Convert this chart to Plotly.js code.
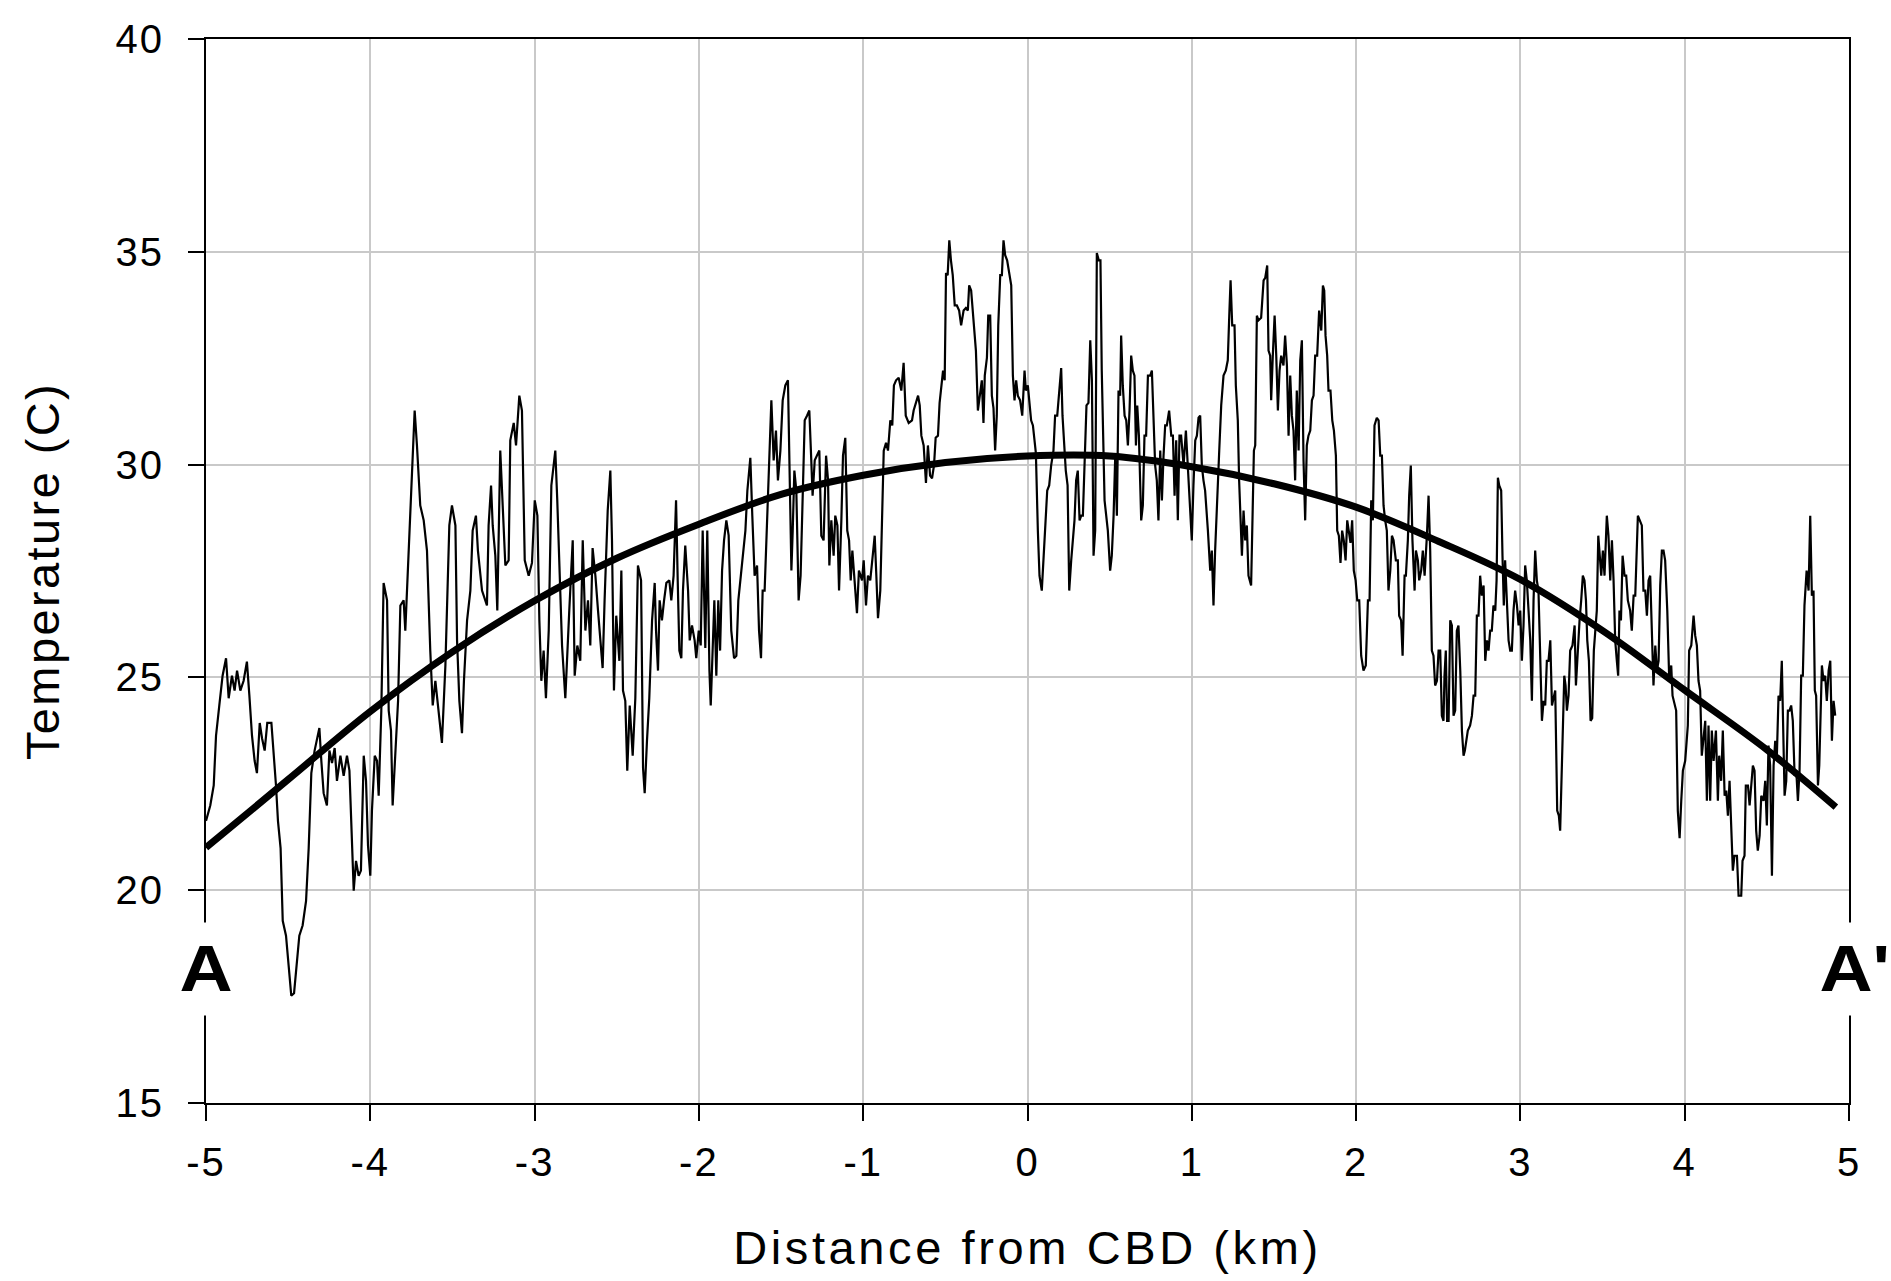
<!DOCTYPE html>
<html>
<head>
<meta charset="utf-8">
<script src="https://cdn.plot.ly/plotly-3.0.1.min.js"></script>
<style>
  html, body { margin: 0; padding: 0; background: #fff; }
  #chart { width: 1891px; height: 1281px; }
  /* wide, spaced lettering for the axis texts */
  #chart .xtitle { letter-spacing: 3.6px; }
  #chart .ytitle { letter-spacing: 2.4px; }
  #chart .xtick text, #chart .ytick text { letter-spacing: 2px; }
  /* broad block letters for the transect end markers */
  #chart .annotation-text { transform-box: fill-box; transform-origin: center; transform: scaleX(1.15); }
</style>
</head>
<body>
<div id="chart"></div>
<script>
// Transect A–A' : surface temperature measured along a line through the CBD
const distanceKm = [
  -5.000,-4.974,-4.953,-4.939,-4.919,-4.899,-4.878,-4.862,-4.842,-4.826,-4.811,-4.791,-4.771,-4.751,-4.736,-4.720,-4.704,-4.690,-4.673,-4.659,-4.643,-4.627,-4.602,-4.588,-4.574,-4.562,-4.546,-4.533,-4.513,-4.497,-4.481,-4.464,-4.449,-4.432,-4.412,-4.391,-4.375,-4.359,-4.339,-4.310,-4.298,-4.284,-4.264,-4.249,-4.233,-4.217,-4.203,-4.182,-4.162,-4.142,-4.127,-4.115,-4.101,
  -4.087,-4.071,-4.057,-4.040,-4.026,-4.014,-4.000,-3.990,-3.973,-3.959,-3.949,-3.933,-3.919,-3.898,-3.888,-3.874,-3.864,-3.848,-3.831,-3.817,-3.797,-3.787,-3.771,-3.750,-3.730,-3.716,-3.696,-3.675,-3.655,-3.635,-3.620,-3.604,-3.584,-3.564,-3.543,-3.533,-3.519,-3.503,-3.482,-3.472,-3.458,-3.442,-3.430,-3.411,-3.391,-3.377,-3.357,-3.345,-3.320,-3.290,-3.280,-3.265,-3.255,-3.239,-3.227,-3.209,-3.188,
  -3.178,-3.158,-3.148,-3.127,-3.113,-3.093,-3.077,-3.060,-3.036,-3.016,-2.999,-2.983,-2.971,-2.959,-2.945,-2.931,-2.914,-2.898,-2.874,-2.862,-2.847,-2.833,-2.813,-2.801,-2.789,-2.768,-2.756,-2.740,-2.722,-2.707,-2.691,-2.675,-2.661,-2.647,-2.630,-2.614,-2.600,-2.586,-2.574,-2.555,-2.539,-2.529,-2.517,-2.503,-2.484,-2.472,-2.462,-2.448,-2.436,-2.421,-2.403,-2.387,-2.371,-2.352,-2.340,-2.330,-2.316,-2.302,-2.285,-2.269,
  -2.261,-2.249,-2.239,-2.225,-2.212,-2.198,-2.180,-2.168,-2.154,-2.139,-2.129,-2.119,-2.107,-2.097,-2.083,-2.066,-2.056,-2.042,-2.026,-2.016,-2.001,-1.989,-1.977,-1.961,-1.949,-1.936,-1.928,-1.916,-1.906,-1.894,-1.882,-1.871,-1.859,-1.847,-1.833,-1.819,-1.803,-1.786,-1.772,-1.760,-1.746,-1.728,-1.717,-1.705,-1.687,-1.675,-1.661,-1.646,-1.634,-1.622,-1.612,-1.600,-1.590,-1.575,-1.559,-1.545,-1.531,-1.519,-1.504,-1.490,-1.474,-1.458,-1.450,-1.437,-1.429,-1.419,-1.407,-1.393,-1.381,-1.368,-1.356,
  -1.342,-1.328,-1.316,-1.308,-1.295,-1.281,-1.267,-1.255,-1.241,-1.226,-1.214,-1.206,-1.194,-1.180,-1.170,-1.157,-1.147,-1.133,-1.123,-1.109,-1.097,-1.086,-1.076,-1.066,-1.052,-1.038,-1.026,-1.007,-0.997,-0.983,-0.971,-0.957,-0.942,-0.930,-0.920,-0.910,-0.896,-0.886,-0.875,-0.861,-0.849,-0.835,-0.823,-0.813,-0.800,-0.784,-0.768,-0.754,-0.741,-0.723,-0.703,-0.693,-0.679,-0.666,-0.656,-0.646,-0.632,-0.618,-0.606,-0.593,-0.581,-0.569,-0.559,-0.545,-0.535,-0.524,-0.514,-0.504,-0.496,-0.486,-0.476,-0.466,-0.455,-0.443,
  -0.430,-0.416,-0.404,-0.389,-0.375,-0.363,-0.355,-0.343,-0.329,-0.314,-0.302,-0.288,-0.278,-0.268,-0.260,-0.247,-0.239,-0.227,-0.217,-0.207,-0.197,-0.187,-0.178,-0.166,-0.156,-0.146,-0.136,-0.124,-0.114,-0.099,-0.089,-0.079,-0.069,-0.059,-0.045,-0.032,-0.018,-0.010,0.002,0.012,0.022,0.033,0.043,0.051,0.063,0.073,0.087,0.097,0.108,0.120,0.132,0.144,0.158,0.168,0.181,0.193,0.205,0.213,0.223,0.233,0.244,0.254,0.266,0.276,0.286,0.296,0.306,0.317,0.327,0.337,0.347,0.359,0.371,0.382,0.392,0.402,0.412,0.422,0.434,0.444,0.452,0.469,
  0.489,0.503,0.513,0.524,0.534,0.544,0.554,0.564,0.570,0.580,0.591,0.601,0.611,0.621,0.631,0.641,0.651,0.660,0.668,0.678,0.692,0.702,0.712,0.722,0.733,0.747,0.757,0.767,0.777,0.787,0.797,0.808,0.818,0.828,0.838,0.848,0.862,0.875,0.885,0.895,0.905,0.915,0.925,0.935,0.950,0.964,0.976,0.990,1.000,1.010,1.021,1.031,1.041,1.051,1.061,1.071,1.081,1.098,1.112,1.122,1.132,1.142,1.155,1.167,1.179,1.193,1.207,1.219,1.228,1.236,1.246,1.260,1.268,1.280,1.288,1.297,1.305,1.315,1.325,1.335,1.345,1.361,1.370,1.378,
  1.386,1.396,1.406,1.422,1.437,1.447,1.459,1.467,1.477,1.483,1.493,1.504,1.514,1.524,1.534,1.544,1.558,1.568,1.579,1.589,1.599,1.609,1.619,1.629,1.639,1.650,1.660,1.670,1.680,1.690,1.700,1.710,1.721,1.731,1.741,1.751,1.763,1.775,1.788,1.798,1.806,1.814,1.824,1.832,1.844,1.855,1.865,1.877,1.885,1.895,1.905,1.915,1.925,1.936,1.946,1.956,1.966,1.976,1.986,1.997,2.007,2.019,2.031,2.045,2.059,2.072,2.082,2.092,2.102,2.112,2.126,2.137,2.147,2.157,2.167,2.177,2.187,2.197,2.208,2.218,2.228,2.242,2.254,2.262,2.274,2.283,2.295,
  2.303,2.315,2.323,2.333,2.343,2.356,2.364,2.376,2.384,2.396,2.406,2.417,2.431,2.441,2.451,2.461,2.471,2.481,2.492,2.502,2.512,2.522,2.532,2.538,2.546,2.554,2.563,2.573,2.583,2.593,2.603,2.613,2.623,2.634,2.644,2.654,2.662,2.670,2.680,2.694,2.705,2.715,2.725,2.735,2.745,2.755,2.765,2.776,2.786,2.796,2.806,2.816,2.826,2.836,2.847,2.855,2.863,2.871,2.883,2.891,2.899,2.907,2.918,2.928,2.938,2.948,2.958,2.968,2.979,2.989,2.999,3.009,3.019,3.029,3.039,3.050,3.060,3.070,3.080,3.090,3.100,3.110,3.121,3.131,3.141,3.151,3.161,3.171,3.182,3.192,
  3.212,3.224,3.234,3.242,3.250,3.259,3.267,3.275,3.283,3.293,3.303,3.317,3.330,3.338,3.350,3.360,3.370,3.380,3.390,3.399,3.407,3.417,3.427,3.437,3.447,3.457,3.465,3.474,3.482,3.492,3.502,3.512,3.526,3.536,3.547,3.557,3.567,3.577,3.587,3.595,3.603,3.612,3.622,3.634,3.644,3.654,3.668,3.678,3.689,3.699,3.715,3.725,3.739,3.749,3.760,3.770,3.780,3.790,3.800,3.810,3.821,3.831,3.841,3.851,3.861,3.871,3.881,3.894,3.906,3.918,3.926,3.938,3.948,3.958,3.969,3.979,3.989,4.003,4.019,4.027,4.040,4.054,4.064,4.074,4.084,4.094,4.104,
  4.125,4.135,4.145,4.155,4.165,4.176,4.190,4.202,4.210,4.222,4.232,4.243,4.253,4.263,4.273,4.283,4.293,4.303,4.318,4.328,4.344,4.352,4.364,4.372,4.385,4.395,4.405,4.415,4.425,4.435,4.445,4.456,4.466,4.480,4.490,4.500,4.510,4.520,4.531,4.541,4.551,4.561,4.571,4.581,4.591,4.600,4.608,4.618,4.628,4.638,4.648,4.658,4.669,4.679,4.689,4.699,4.709,4.719,4.729,4.742,4.754,4.764,4.774,4.784,4.792,4.800,4.811,4.819,4.827,4.835,4.845,4.855,4.865,4.876,4.886,4.896,4.906,4.916
];

const temperatureC = [
  21.63,21.99,22.46,23.63,24.34,25.04,25.45,24.51,25.04,24.69,25.16,24.69,24.92,25.37,24.57,23.63,23.04,22.75,23.93,23.57,23.28,23.93,23.93,23.22,22.46,21.63,20.99,19.28,18.93,18.23,17.52,17.58,18.23,18.93,19.17,19.75,20.99,22.75,23.28,23.81,23.04,22.28,21.99,23.28,22.99,23.34,22.57,23.16,22.69,23.16,22.81,21.28,19.99,
  20.69,20.34,20.46,23.16,22.57,21.05,20.34,21.87,23.16,23.04,22.22,24.22,27.22,26.81,24.22,23.75,21.99,23.22,24.45,26.69,26.81,26.10,27.63,29.51,31.27,30.45,29.04,28.69,27.98,25.63,24.34,24.92,24.22,23.46,25.28,26.69,28.57,29.04,28.57,25.87,24.45,23.69,24.92,26.34,27.04,28.45,28.80,27.98,27.04,26.69,28.57,29.51,28.57,27.86,26.57,30.33,28.69,
  27.63,27.75,30.57,30.98,30.45,31.62,31.27,27.75,27.39,27.69,29.16,28.80,26.34,24.92,25.63,24.51,26.10,29.51,30.33,29.16,27.63,25.75,24.51,25.63,26.57,28.22,25.04,25.75,25.39,28.22,26.10,26.81,25.75,28.04,27.39,26.57,25.98,25.22,26.81,28.92,29.86,28.22,24.69,26.45,25.39,27.51,24.69,24.45,22.81,24.34,23.16,24.51,27.63,27.28,22.87,22.28,23.51,24.51,26.34,27.22,
  26.10,25.16,26.81,26.34,26.81,27.22,27.28,26.81,27.39,29.16,27.28,25.63,25.45,27.04,28.10,27.04,25.87,26.22,25.87,25.45,26.10,25.75,28.45,25.69,28.45,25.16,24.34,25.63,26.81,25.04,26.81,25.63,27.51,28.22,28.69,28.34,26.10,25.45,25.51,26.81,27.39,27.98,28.45,29.39,30.16,28.80,27.39,27.63,26.10,25.45,27.04,27.04,28.10,29.86,31.51,30.10,30.80,29.63,30.33,31.51,31.86,31.98,29.98,27.51,28.45,29.86,29.39,26.81,27.39,29.16,31.04,
  31.15,31.27,30.10,29.27,30.10,30.21,30.33,28.33,28.22,30.21,29.63,27.63,28.69,27.86,28.80,28.57,27.04,28.69,30.21,30.63,28.45,28.22,27.28,27.98,27.28,26.51,27.51,27.28,27.75,26.69,27.39,27.28,27.86,28.33,27.39,26.39,27.04,28.80,30.33,30.51,30.33,31.04,30.92,31.86,31.98,32.04,31.74,32.39,31.15,30.98,31.04,31.27,31.45,31.62,31.39,30.68,30.45,29.57,30.45,29.74,29.68,29.98,30.63,30.68,31.45,31.92,32.21,31.98,34.50,34.45,35.27,34.80,34.45,33.74,
  33.74,33.62,33.27,33.62,33.68,33.62,34.21,34.09,33.45,32.68,31.27,31.74,31.98,30.98,32.09,32.51,33.50,33.50,31.62,31.33,30.33,31.15,33.27,34.45,34.45,35.27,34.92,34.80,34.56,34.21,32.09,31.51,31.98,31.62,31.51,31.15,32.21,31.74,31.86,31.51,31.04,30.92,30.45,30.27,28.45,27.39,27.04,27.86,28.45,29.39,29.51,29.98,30.33,31.15,31.15,31.74,32.27,31.15,30.57,29.86,29.51,27.04,27.75,28.33,28.69,29.63,29.86,28.69,28.80,28.80,30.10,31.39,31.45,32.92,31.98,27.86,28.45,34.97,34.80,34.80,32.21,29.16,
  28.45,27.51,27.86,28.80,30.21,28.80,31.74,31.62,33.03,31.86,31.15,31.04,30.45,31.27,32.56,32.21,32.09,30.45,31.39,30.68,28.69,29.04,30.68,30.68,32.09,32.09,32.21,31.15,29.98,29.63,28.69,30.33,29.16,30.21,30.92,30.92,31.27,30.68,30.68,29.27,30.57,28.69,30.68,30.68,29.98,30.80,29.98,29.16,28.22,29.51,30.57,30.68,31.10,31.15,29.98,29.63,29.39,28.45,27.51,27.98,26.69,27.98,29.39,30.33,31.39,32.09,32.21,32.45,33.50,34.33,33.27,33.27,31.86,31.04,29.63,28.69,27.86,28.92,28.22,28.57,27.39,27.16,29.04,30.33,
  30.45,33.50,33.39,33.45,34.33,34.39,34.68,32.68,32.56,31.51,32.56,33.50,32.56,31.27,32.21,32.56,32.33,33.03,32.33,30.68,32.09,31.15,30.80,29.63,31.74,30.33,32.45,32.92,30.10,28.69,30.45,30.68,30.80,31.51,31.62,32.56,32.56,33.62,33.15,34.21,34.09,33.03,32.56,31.74,31.74,31.04,30.80,30.21,28.45,28.33,27.69,28.45,28.22,27.75,28.69,28.45,28.16,28.69,27.51,27.28,26.81,26.81,25.51,25.16,25.28,26.81,26.81,29.16,28.69,30.92,31.10,31.04,30.21,30.21,29.04,28.69,28.45,27.04,27.51,28.33,28.22,27.75,27.75,26.45,26.34,25.51,27.39,
  27.39,28.22,29.27,29.98,28.22,27.04,27.98,27.75,27.28,27.51,27.98,27.39,28.33,29.27,27.98,25.63,25.51,24.81,24.92,25.63,25.63,24.10,23.98,25.04,25.63,23.98,23.98,26.34,26.22,24.10,24.22,26.10,26.22,25.16,23.75,23.16,23.28,23.51,23.75,23.87,24.10,24.57,24.57,26.45,26.45,27.39,26.92,27.16,25.39,25.87,25.63,26.10,26.10,26.69,26.57,27.28,29.69,29.51,29.39,27.86,26.69,27.75,26.57,25.87,25.63,25.63,26.57,27.04,26.69,26.22,26.57,25.39,26.22,27.63,27.28,26.57,25.87,24.45,26.81,27.98,27.28,27.04,25.28,23.98,24.45,24.34,25.39,25.39,25.87,24.34,
  24.69,21.87,21.75,21.40,22.57,24.22,25.04,24.81,24.22,24.57,25.63,25.75,26.22,24.81,25.75,26.34,26.81,27.39,27.28,26.81,25.87,25.39,23.98,24.04,25.63,26.22,26.57,28.33,27.98,27.39,27.98,27.39,28.80,28.33,27.28,28.22,27.28,25.87,25.39,25.04,26.57,26.34,27.86,27.39,27.39,26.81,26.57,26.10,26.92,26.92,28.80,28.69,28.57,27.04,27.04,26.45,27.28,27.39,26.34,24.81,25.75,25.16,25.39,27.16,27.98,27.98,27.75,26.57,24.92,25.28,24.57,24.34,24.22,21.87,21.22,22.10,22.81,23.04,23.87,25.63,25.75,26.45,25.98,25.75,24.92,24.69,23.16,
  23.98,22.10,23.87,22.10,23.75,23.04,23.75,22.10,23.16,22.57,23.75,22.22,22.34,21.75,22.57,21.40,20.46,20.81,20.81,19.87,19.87,20.69,20.81,22.46,22.46,21.99,22.57,22.93,22.81,21.40,20.93,21.28,22.22,22.10,22.57,21.52,23.40,22.93,20.34,22.93,23.51,23.16,24.57,24.45,25.39,23.16,22.22,22.57,24.22,24.22,24.34,23.98,22.69,22.81,22.10,22.81,25.04,25.04,26.69,27.51,27.04,28.80,26.92,27.04,24.69,24.57,22.46,22.93,24.45,25.28,24.92,25.04,24.45,25.16,25.39,23.51,24.45,24.10
];

// Smooth trend through the transect, read at half-kilometre steps
const trendKm = [-5.0,-4.5,-4.0,-3.5,-3.0,-2.5,-2.0,-1.5,-1.0,-0.5,0.0,0.5,1.0,1.5,2.0,2.5,3.0,3.5,4.0,4.5,4.92];
const trendC  = [21.0,22.6,24.2,25.6,26.8,27.8,28.6,29.3,29.75,30.05,30.2,30.2,29.95,29.55,29.0,28.2,27.3,26.1,24.7,23.3,21.95];

const xTickVals = [-5,-4,-3,-2,-1,0,1,2,3,4,5];
const yTickVals = [15,20,25,30,35,40];
const endLabels = ['A', "A'"];

const FONT = 'Liberation Sans, Arial, sans-serif';

const traces = [
  {
    x: distanceKm, y: temperatureC,
    type: 'scatter', mode: 'lines',
    line: { color: '#000', width: 2.2 },
    hoverinfo: 'skip', showlegend: false
  },
  {
    x: trendKm, y: trendC,
    type: 'scatter', mode: 'lines',
    line: { color: '#000', width: 7, shape: 'spline', smoothing: 1 },
    hoverinfo: 'skip', showlegend: false
  }
];

const axisCommon = {
  showgrid: true, gridcolor: '#c9c9c9', gridwidth: 2,
  showline: true, linecolor: '#000', linewidth: 2, mirror: true,
  ticks: 'outside', ticklen: 16, tickwidth: 2, tickcolor: '#000',
  tickfont: { family: FONT, size: 40, color: '#000' },
  zeroline: false, fixedrange: true
};

const layout = {
  width: 1891, height: 1281,
  margin: { l: 206, r: 42, t: 39, b: 178, pad: 0 },
  paper_bgcolor: '#fff', plot_bgcolor: '#fff',
  showlegend: false,
  xaxis: Object.assign({}, axisCommon, {
    range: [-5, 5], tickmode: 'array', tickvals: xTickVals,
    ticktext: xTickVals.map(String), ticklabelstandoff: 7,
    title: { text: 'Distance from CBD (km)', font: { family: FONT, size: 47, color: '#000' }, standoff: 48 }
  }),
  yaxis: Object.assign({}, axisCommon, {
    range: [15, 40], tickmode: 'array', tickvals: yTickVals,
    ticktext: yTickVals.map(String), ticklabelstandoff: 16,
    title: { text: 'Temperature (C)', font: { family: FONT, size: 47, color: '#000' }, standoff: 45 }
  }),
  annotations: [
    { x: -5, y: 18.15, xref: 'x', yref: 'y', text: '<b>' + endLabels[0] + '</b>',
      showarrow: false, xanchor: 'center', yanchor: 'middle',
      font: { family: FONT, size: 64, color: '#000' }, bgcolor: '#fff', borderpad: 10 },
    { x: 5, y: 18.15, xref: 'x', yref: 'y', text: '<b>' + endLabels[1] + '</b>',
      showarrow: false, xanchor: 'center', yanchor: 'middle', xshift: 5,
      font: { family: FONT, size: 64, color: '#000' }, bgcolor: '#fff', borderpad: 10 }
  ]
};

Plotly.newPlot('chart', traces, layout, { staticPlot: true, displayModeBar: false });
</script>
</body>
</html>
